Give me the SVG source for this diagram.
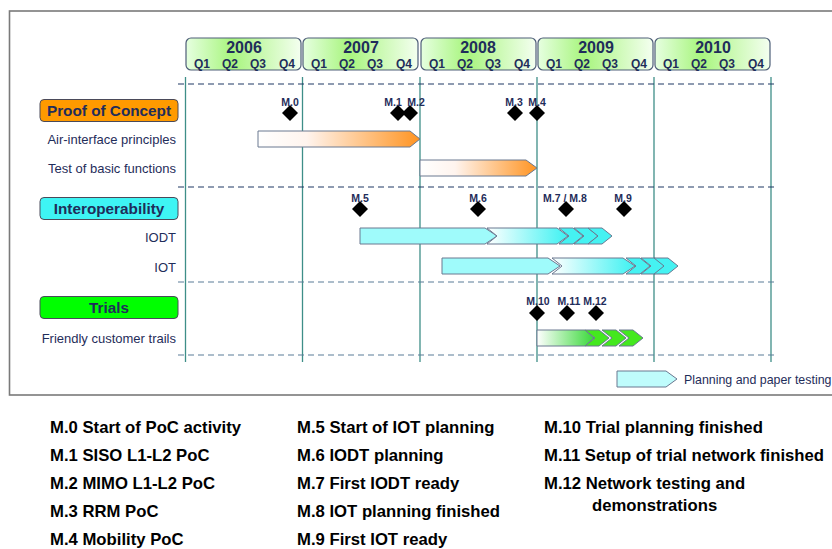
<svg xmlns="http://www.w3.org/2000/svg" width="832" height="549" viewBox="0 0 832 549">
<defs>
<linearGradient id="gYear" x1="0" y1="0" x2="1" y2="0">
<stop offset="0" stop-color="#E6FFE0"/><stop offset="0.4" stop-color="#A8F57E"/><stop offset="1" stop-color="#F4FFF0"/>
</linearGradient>
<linearGradient id="gOrange" x1="0" y1="0" x2="1" y2="0">
<stop offset="0" stop-color="#FFFFFF"/><stop offset="0.3" stop-color="#FFF4EE"/><stop offset="1" stop-color="#FF9422"/>
</linearGradient>
<linearGradient id="gCyan" x1="0" y1="0" x2="1" y2="0">
<stop offset="0" stop-color="#FFFFFF"/><stop offset="1" stop-color="#3CF2F2"/>
</linearGradient>
<linearGradient id="gGreen" x1="0" y1="0" x2="1" y2="0">
<stop offset="0" stop-color="#FFFFFF"/><stop offset="1" stop-color="#38D838"/>
</linearGradient>
<path id="chev" d="M0,0 H14 L24,8 L14,16 H0 L10,8 Z"/>
<path id="dia" d="M0,-8 L8,0 L0,8 L-8,0 Z"/>
<style>
.yr{fill:url(#gYear);stroke:#4E5E78;stroke-width:1.2}
.yt{font-family:"Liberation Sans",Arial,sans-serif;font-weight:bold;font-size:16px;fill:#1F2D5A;text-anchor:middle}
.qt{font-family:"Liberation Sans",Arial,sans-serif;font-weight:bold;font-size:12px;fill:#1F2D5A;text-anchor:middle}
.vl{stroke:#3E8E88;stroke-width:1.3}
.dh{stroke:#1F3864;stroke-width:1.2;stroke-dasharray:6,4}
.dl{stroke:#5A7C98;stroke-width:1.2;stroke-dasharray:6,4}
.cat{stroke:#4A4A5A;stroke-width:1}
.ct{font-family:"Liberation Sans",Arial,sans-serif;font-weight:bold;font-size:15.3px;fill:#1F2D5A;text-anchor:middle}
.rl{font-family:"Liberation Sans",Arial,sans-serif;font-size:13px;fill:#1F2D5A;text-anchor:end}
.ml{font-family:"Liberation Sans",Arial,sans-serif;font-weight:bold;font-size:10.5px;fill:#1F2D5A;text-anchor:middle}
.bar{stroke:#6A7890;stroke-width:1}
.lg{font-family:"Liberation Sans",Arial,sans-serif;font-weight:bold;font-size:16.7px;fill:#000}
</style>
</defs>
<rect x="0" y="0" width="832" height="549" fill="#FFFFFF"/>
<rect x="9.5" y="11" width="900" height="384" fill="none" stroke="#7A7A7A" stroke-width="1.6"/>

<g id="timeline-header">
<rect class="yr" x="186" y="38" width="115" height="32" rx="5"/>
<rect class="yr" x="303" y="38" width="115" height="32" rx="5"/>
<rect class="yr" x="421" y="38" width="115" height="32" rx="5"/>
<rect class="yr" x="538" y="38" width="115" height="32" rx="5"/>
<rect class="yr" x="655" y="38" width="115" height="32" rx="5"/>
<text class="yt" x="244" y="53">2006</text>
<text class="yt" x="361" y="53">2007</text>
<text class="yt" x="478" y="53">2008</text>
<text class="yt" x="596" y="53">2009</text>
<text class="yt" x="713" y="53">2010</text>
<g class="qt">
<text x="202" y="68">Q1</text><text x="230" y="68">Q2</text><text x="258" y="68">Q3</text><text x="287" y="68">Q4</text>
<text x="319" y="68">Q1</text><text x="347" y="68">Q2</text><text x="375" y="68">Q3</text><text x="404" y="68">Q4</text>
<text x="437" y="68">Q1</text><text x="465" y="68">Q2</text><text x="493" y="68">Q3</text><text x="522" y="68">Q4</text>
<text x="554" y="68">Q1</text><text x="582" y="68">Q2</text><text x="610" y="68">Q3</text><text x="639" y="68">Q4</text>
<text x="671" y="68">Q1</text><text x="699" y="68">Q2</text><text x="727" y="68">Q3</text><text x="756" y="68">Q4</text>
</g>
</g>

<g id="grid">
<line class="vl" x1="185.5" y1="77" x2="185.5" y2="362"/>
<line class="vl" x1="302.5" y1="77" x2="302.5" y2="362"/>
<line class="vl" x1="420" y1="77" x2="420" y2="362"/>
<line class="vl" x1="537" y1="77" x2="537" y2="362"/>
<line class="vl" x1="654" y1="77" x2="654" y2="362"/>
<line class="vl" x1="771" y1="77" x2="771" y2="362"/>
<line class="dh" x1="178" y1="84" x2="778" y2="84"/>
<line class="dh" x1="178" y1="187" x2="778" y2="187"/>
<line class="dl" x1="178" y1="282" x2="778" y2="282"/>
<line class="dl" x1="178" y1="355" x2="778" y2="355"/>
</g>

<g id="proof-of-concept">
<rect class="cat" x="40" y="99.5" width="138" height="22" rx="4" fill="#FF9A00"/>
<text class="ct" x="109" y="116">Proof of Concept</text>
<text class="rl" x="176" y="143.5">Air-interface principles</text>
<text class="rl" x="176" y="172.5">Test of basic functions</text>
<path class="bar" d="M258,131 H410 L420,139 L410,147 H258 Z" fill="url(#gOrange)"/>
<path class="bar" d="M420,160 H526 L537,168 L526,176 H420 Z" fill="url(#gOrange)"/>
</g>

<g id="interoperability">
<rect class="cat" x="40" y="197.5" width="138" height="22" rx="4" fill="#3EF4F4"/>
<text class="ct" x="109" y="214">Interoperability</text>
<text class="rl" x="176" y="241.5">IODT</text>
<text class="rl" x="176" y="271.5">IOT</text>
<path class="bar" d="M360,228 H485 L497,236 L485,244 H360 Z" fill="#9FFBFB"/>
<path class="bar" d="M487,228 H557 L568,236 L557,244 H487 L497,236 Z" fill="url(#gCyan)"/>
<use href="#chev" x="559" y="228" class="bar" fill="#45F2F2"/>
<use href="#chev" x="574" y="228" class="bar" fill="#45F2F2"/>
<use href="#chev" x="588" y="228" class="bar" fill="#45F2F2"/>
<path class="bar" d="M442,258 H548 L560,266 L548,274 H442 Z" fill="#9FFBFB"/>
<path class="bar" d="M552,258 H623 L635,266 L623,274 H552 L562,266 Z" fill="url(#gCyan)"/>
<use href="#chev" x="626" y="258" class="bar" fill="#45F2F2"/>
<use href="#chev" x="641" y="258" class="bar" fill="#45F2F2"/>
<use href="#chev" x="654" y="258" class="bar" fill="#45F2F2"/>
</g>

<g id="trials">
<rect class="cat" x="40" y="296.5" width="138" height="22" rx="4" fill="#00FF00"/>
<text class="ct" x="109" y="313">Trials</text>
<text class="rl" x="176" y="342.5">Friendly customer trails</text>
<path class="bar" d="M537,330 H585 L594,338 L585,346 H537 Z" fill="url(#gGreen)"/>
<use href="#chev" x="585" y="330" class="bar" fill="#44E81E"/>
<use href="#chev" x="602" y="330" class="bar" fill="#44E81E"/>
<use href="#chev" x="619" y="330" class="bar" fill="#44E81E"/>
</g>

<g id="milestones">
<use href="#dia" x="290" y="113"/><text class="ml" x="290" y="106">M.0</text>
<use href="#dia" x="398" y="113"/><text class="ml" x="393" y="106">M.1</text>
<use href="#dia" x="410" y="113"/><text class="ml" x="416" y="106">M.2</text>
<use href="#dia" x="515" y="113"/><text class="ml" x="514" y="106">M.3</text>
<use href="#dia" x="537" y="113"/><text class="ml" x="537" y="106">M.4</text>
<use href="#dia" x="360" y="209"/><text class="ml" x="360" y="202">M.5</text>
<use href="#dia" x="478" y="209"/><text class="ml" x="478" y="202">M.6</text>
<use href="#dia" x="566" y="209"/><text class="ml" x="565" y="202">M.7 / M.8</text>
<use href="#dia" x="624" y="209"/><text class="ml" x="623" y="202">M.9</text>
<use href="#dia" x="537" y="313"/><text class="ml" x="538" y="305">M.10</text>
<use href="#dia" x="567" y="313"/><text class="ml" x="569" y="305">M.11</text>
<use href="#dia" x="596" y="313"/><text class="ml" x="595" y="305">M.12</text>
</g>

<g id="legend">
<path class="bar" d="M617,371 H666 L677,379 L666,387 H617 Z" fill="#BFFCFC"/>
<text x="684" y="384" font-family="Liberation Sans, Arial, sans-serif" font-size="12.4" fill="#1F2D5A">Planning and paper testing</text>
</g>

<g id="milestone-list">
<text class="lg" x="50" y="433">M.0 Start of PoC activity</text>
<text class="lg" x="50" y="461">M.1 SISO L1-L2 PoC</text>
<text class="lg" x="50" y="489">M.2 MIMO L1-L2 PoC</text>
<text class="lg" x="50" y="517">M.3 RRM PoC</text>
<text class="lg" x="50" y="545">M.4 Mobility PoC</text>
<text class="lg" x="297" y="433">M.5 Start of IOT planning</text>
<text class="lg" x="297" y="461">M.6 IODT planning</text>
<text class="lg" x="297" y="489">M.7 First IODT ready</text>
<text class="lg" x="297" y="517">M.8 IOT planning finished</text>
<text class="lg" x="297" y="545">M.9 First IOT ready</text>
<text class="lg" x="544" y="433">M.10 Trial planning finished</text>
<text class="lg" x="544" y="461">M.11 Setup of trial network finished</text>
<text class="lg" x="544" y="489">M.12 Network testing and</text>
<text class="lg" x="592" y="511">demonstrations</text>
</g>
</svg>
